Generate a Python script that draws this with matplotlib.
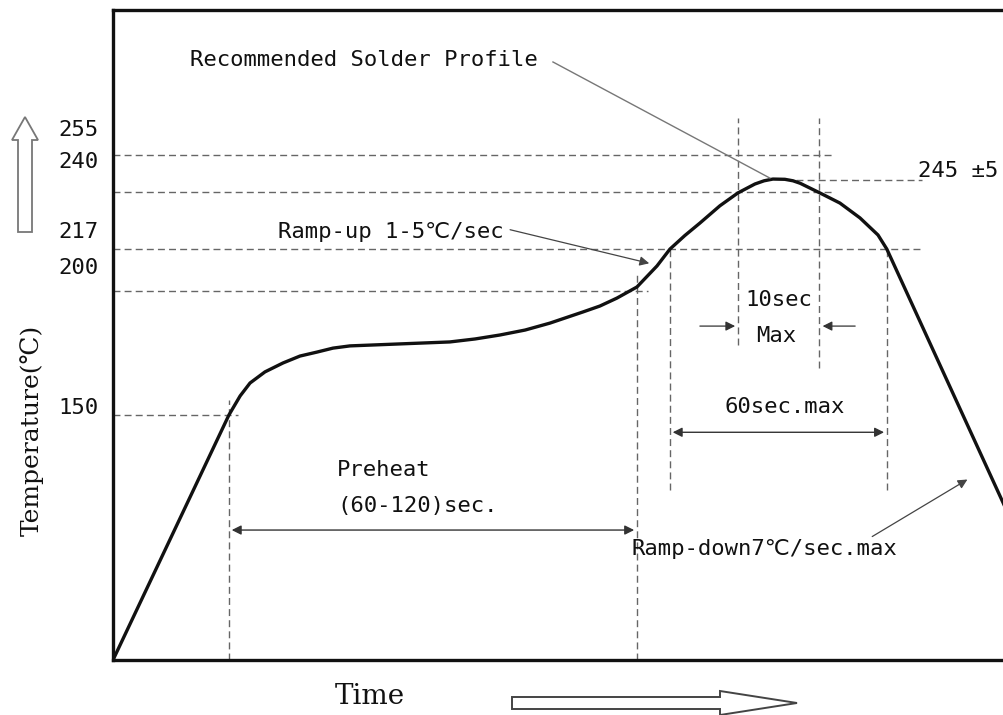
import matplotlib
matplotlib.use("Agg")
import matplotlib.pyplot as plt
from matplotlib.patches import FancyArrow

# reflow profile (time in s, temperature in degC)
time_s = [0, 34.1, 37.4, 40.3, 44.7, 50.0, 55.0, 60.0, 64.7, 69.7, 77.1, 84.4,
          91.8, 99.1, 106.5, 113.8, 121.2, 128.5, 138.2, 143.2, 148.2, 154.1,
          160.0, 163.8, 168.2, 172.6, 178.5, 183.8, 188.8, 191.5, 194.1, 197.6,
          200.0, 202.1, 207.9, 213.8, 219.7, 225.0, 227.6, 261.8, 275.6]
temp_c = [51, 150, 157.7, 162.9, 167.4, 171.0, 173.8, 175.4, 177.0, 177.9, 178.3,
          178.7, 179.1, 179.5, 180.7, 182.3, 184.3, 187.1, 191.6, 194.0, 197.2,
          201.7, 210.2, 217, 222.5, 227.5, 234.5, 239.7, 243.3, 244.6, 245.3,
          245.2, 244.6, 243.6, 239.7, 235.6, 229.6, 222.7, 217, 114.5, 72.4]

# reference levels: (temperature, x start, x end)
h_levels = [255, 240, 245, 217, 200, 150]
h_start = [0, 0, 201, 0, 0, 0]
h_end = [211.5, 211.5, 238, 238, 157.4, 36.8]

# vertical guides: (time, y low, y high)
v_times = [34.1, 154.1, 163.8, 183.8, 207.6, 227.6]
v_low = [51, 51, 119.7, 178.3, 169, 119.7]
v_high = [156, 207, 217, 270, 270, 217]

tick_values = ['255', '240', '217', '200', '150']
tick_pos = [265.1, 252.2, 224.0, 209.4, 152.8]

fig = plt.figure(figsize=(10.04, 7.15), dpi=100)
ax = fig.add_axes([113 / 1004, 55 / 715, 901 / 1004, 650 / 715])
ax.set_xlim(0, 265)
ax.set_ylim(51, 313.6)
ax.set_xticks([])
ax.set_yticks([])
for side in ['left', 'top', 'bottom']:
    ax.spines[side].set_linewidth(2.4)
    ax.spines[side].set_color('#111111')
ax.spines['right'].set_visible(False)

dash = dict(color='#666666', lw=1.0, linestyle=(0, (5, 3)))
for lv, x0, x1 in zip(h_levels, h_start, h_end):
    ax.plot([x0, x1], [lv, lv], **dash)
for t, y0, y1 in zip(v_times, v_low, v_high):
    ax.plot([t, t], [y0, y1], **dash)

ax.plot(time_s, temp_c, color='#111111', lw=2.4, solid_joinstyle='round')

font = dict(family=['DejaVu Sans Mono', 'DejaVu Sans'], fontsize=16, color='#111111')

for lab, y in zip(tick_values, tick_pos):
    ax.text(-4.4, y, lab, ha='right', va='center', **font)

ax.text(22.6, 293.4, 'Recommended Solder Profile', ha='left', va='center', **font)
ax.plot([129.4, 193.2], [292.6, 245.7], color='#777777', lw=1.0)

ax.text(48.5, 223.9, 'Ramp-up 1-5℃/sec', ha='left', va='center', **font)
ax.annotate('', xy=(158.5, 211), xytext=(116, 225.1),
            arrowprops=dict(arrowstyle='-|>', color='#444444', lw=0.9, mutation_scale=14))

ax.text(236.8, 248.5, '245 ±5', ha='left', va='center', **font)

ax.text(195.9, 196.4, '10sec', ha='center', va='center', **font)
ax.text(195.0, 181.9, 'Max', ha='center', va='center', **font)
ax.annotate('', xy=(183.8, 185.9), xytext=(171.8, 185.9),
            arrowprops=dict(arrowstyle='-|>', color='#333333', lw=0.9, mutation_scale=14))
ax.annotate('', xy=(207.9, 185.9), xytext=(219.1, 185.9),
            arrowprops=dict(arrowstyle='-|>', color='#333333', lw=0.9, mutation_scale=14))

ax.text(197.6, 153.2, '60sec.max', ha='center', va='center', **font)
ax.annotate('', xy=(227.6, 143), xytext=(163.8, 143),
            arrowprops=dict(arrowstyle='<|-|>', color='#333333', lw=1.0, mutation_scale=14))

ax.text(65.9, 127.8, 'Preheat', ha='left', va='center', **font)
ax.text(65.9, 113.2, '(60-120)sec.', ha='left', va='center', **font)
ax.annotate('', xy=(154.1, 103.5), xytext=(34.1, 103.5),
            arrowprops=dict(arrowstyle='<|-|>', color='#333333', lw=1.0, mutation_scale=14))

ax.text(152.6, 95.9, 'Ramp-down7℃/sec.max', ha='left', va='center', **font)
ax.annotate('', xy=(252, 124.5), xytext=(222.6, 100.3),
            arrowprops=dict(arrowstyle='-|>', color='#444444', lw=0.9, mutation_scale=14))

# axis titles and hollow arrows, in pixel space on an overlay
ov = fig.add_axes([0, 0, 1, 1])
ov.set_xlim(0, 1004)
ov.set_ylim(715, 0)
ov.axis('off')
ov.patch.set_alpha(0)

ov.text(32, 430, 'Temperature(℃)', rotation=90, ha='center', va='center',
        family=['DejaVu Serif', 'DejaVu Sans'], fontsize=18, color='#111111')
ov.text(370, 697, 'Time', ha='center', va='center',
        family=['DejaVu Serif'], fontsize=20, color='#111111')

ov.add_patch(FancyArrow(25, 232, 0, -115, width=14, head_width=26, head_length=23,
                        length_includes_head=True, fc='white', ec='#777777', lw=1.3))
ov.add_patch(FancyArrow(512, 703, 285, 0, width=12, head_width=24, head_length=77,
                        length_includes_head=True, fc='white', ec='#444444', lw=1.4))

fig.savefig('out.png', dpi=100)
